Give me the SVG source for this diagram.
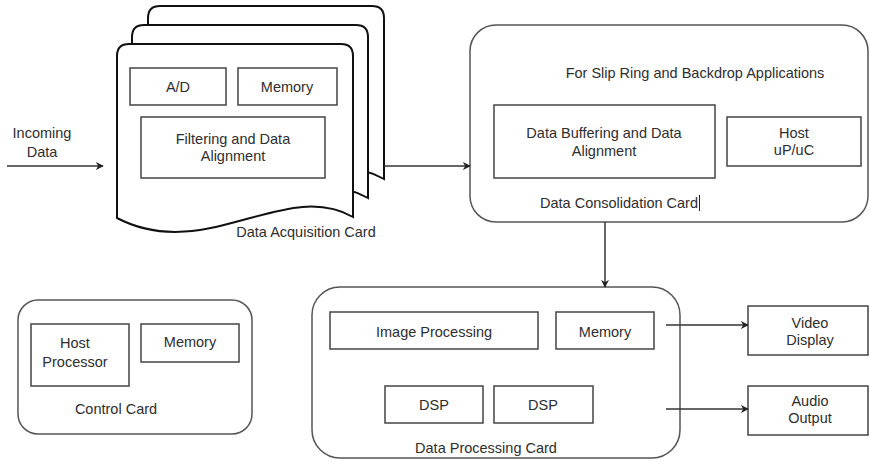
<svg xmlns="http://www.w3.org/2000/svg" width="870" height="461" viewBox="0 0 870 461">
  <style>
    .page { fill: #ffffff; stroke: #111111; stroke-width: 2; }
    .card { fill: #ffffff; stroke: #555555; stroke-width: 1.5; }
    .box { fill: #ffffff; stroke: #444444; stroke-width: 1.5; }
    .wire { fill: none; stroke: #333333; stroke-width: 1.5; }
    text { font-family: "Liberation Sans", Arial, sans-serif; font-size: 14.5px; fill: #2e2e2e; text-anchor: middle; dominant-baseline: central; }
  </style>
  <defs>
    <marker id="arrow" viewBox="0 0 10 10" refX="9" refY="5" markerWidth="8" markerHeight="8" markerUnits="userSpaceOnUse" orient="auto">
      <path d="M0,0 L10,5 L0,10 L3,5 Z" fill="#222222"/>
    </marker>
    <path id="docPage" d="M117,218 L117,56 Q117,44 129,44 L341,44 Q353,44 353,56 L353,217 C285,178 205,264 117,218 Z"/>
  </defs>

  <!-- Data acquisition card: stack of three pages -->
  <g id="acquisition-card">
    <use href="#docPage" class="page" transform="translate(31,-38)"/>
    <use href="#docPage" class="page" transform="translate(15,-19)"/>
    <use href="#docPage" class="page"/>
    <rect class="box" x="130" y="68" width="96" height="37"/>
    <text x="178" y="87">A/D</text>
    <rect class="box" x="238" y="68" width="99" height="37"/>
    <text x="287" y="87">Memory</text>
    <rect class="box" x="141" y="117" width="184" height="61"/>
    <text x="233" y="139">Filtering and Data</text>
    <text x="233" y="156">Alignment</text>
    <text x="306" y="232">Data Acquisition Card</text>
  </g>

  <g id="incoming-data">
    <text x="42" y="133">Incoming</text>
    <text x="42" y="152">Data</text>
  </g>

  <!-- Data consolidation card -->
  <g id="consolidation-card">
    <rect class="card" x="470" y="25" width="398" height="197" rx="26" ry="26"/>
    <text x="695" y="73">For Slip Ring and Backdrop Applications</text>
    <rect class="box" x="494" y="105" width="221" height="73"/>
    <text x="604" y="133">Data Buffering and Data</text>
    <text x="604" y="151">Alignment</text>
    <rect class="box" x="727" y="117" width="134" height="49"/>
    <text x="794" y="133">Host</text>
    <text x="794" y="150">uP/uC</text>
    <text x="619" y="203">Data Consolidation Card</text>
    <line x1="699.5" y1="195" x2="699.5" y2="211" stroke="#222222" stroke-width="1"/>
  </g>

  <!-- Control card -->
  <g id="control-card">
    <rect class="card" x="18" y="300" width="234" height="134" rx="20" ry="20"/>
    <rect class="box" x="31" y="324" width="98" height="62"/>
    <text x="75" y="343">Host</text>
    <text x="75" y="362">Processor</text>
    <rect class="box" x="141" y="324" width="98" height="38"/>
    <text x="190" y="342">Memory</text>
    <text x="116" y="409">Control Card</text>
  </g>

  <!-- Data processing card -->
  <g id="processing-card">
    <rect class="card" x="312" y="287" width="368" height="171" rx="28" ry="28"/>
    <rect class="box" x="330" y="312" width="208" height="37"/>
    <text x="434" y="332">Image Processing</text>
    <rect class="box" x="556" y="312" width="98" height="37"/>
    <text x="605" y="332">Memory</text>
    <rect class="box" x="385" y="386" width="98" height="37"/>
    <text x="434" y="405">DSP</text>
    <rect class="box" x="494" y="386" width="99" height="37"/>
    <text x="543" y="405">DSP</text>
    <text x="486" y="448">Data Processing Card</text>
  </g>

  <g id="video-display">
    <rect class="box" x="748" y="306" width="120" height="49"/>
    <text x="810" y="323">Video</text>
    <text x="810" y="340">Display</text>
  </g>

  <g id="audio-output">
    <rect class="box" x="748" y="386" width="120" height="49"/>
    <text x="810" y="401">Audio</text>
    <text x="810" y="418">Output</text>
  </g>

  <!-- Connectors -->
  <g id="connectors">
    <line class="wire" x1="7" y1="166" x2="103" y2="166" marker-end="url(#arrow)"/>
    <line class="wire" x1="384" y1="166" x2="470" y2="166" marker-end="url(#arrow)"/>
    <line class="wire" x1="605" y1="222" x2="605" y2="287" marker-end="url(#arrow)"/>
    <line class="wire" x1="666" y1="325" x2="748" y2="325" marker-end="url(#arrow)"/>
    <line class="wire" x1="666" y1="409" x2="748" y2="409" marker-end="url(#arrow)"/>
  </g>
</svg>
